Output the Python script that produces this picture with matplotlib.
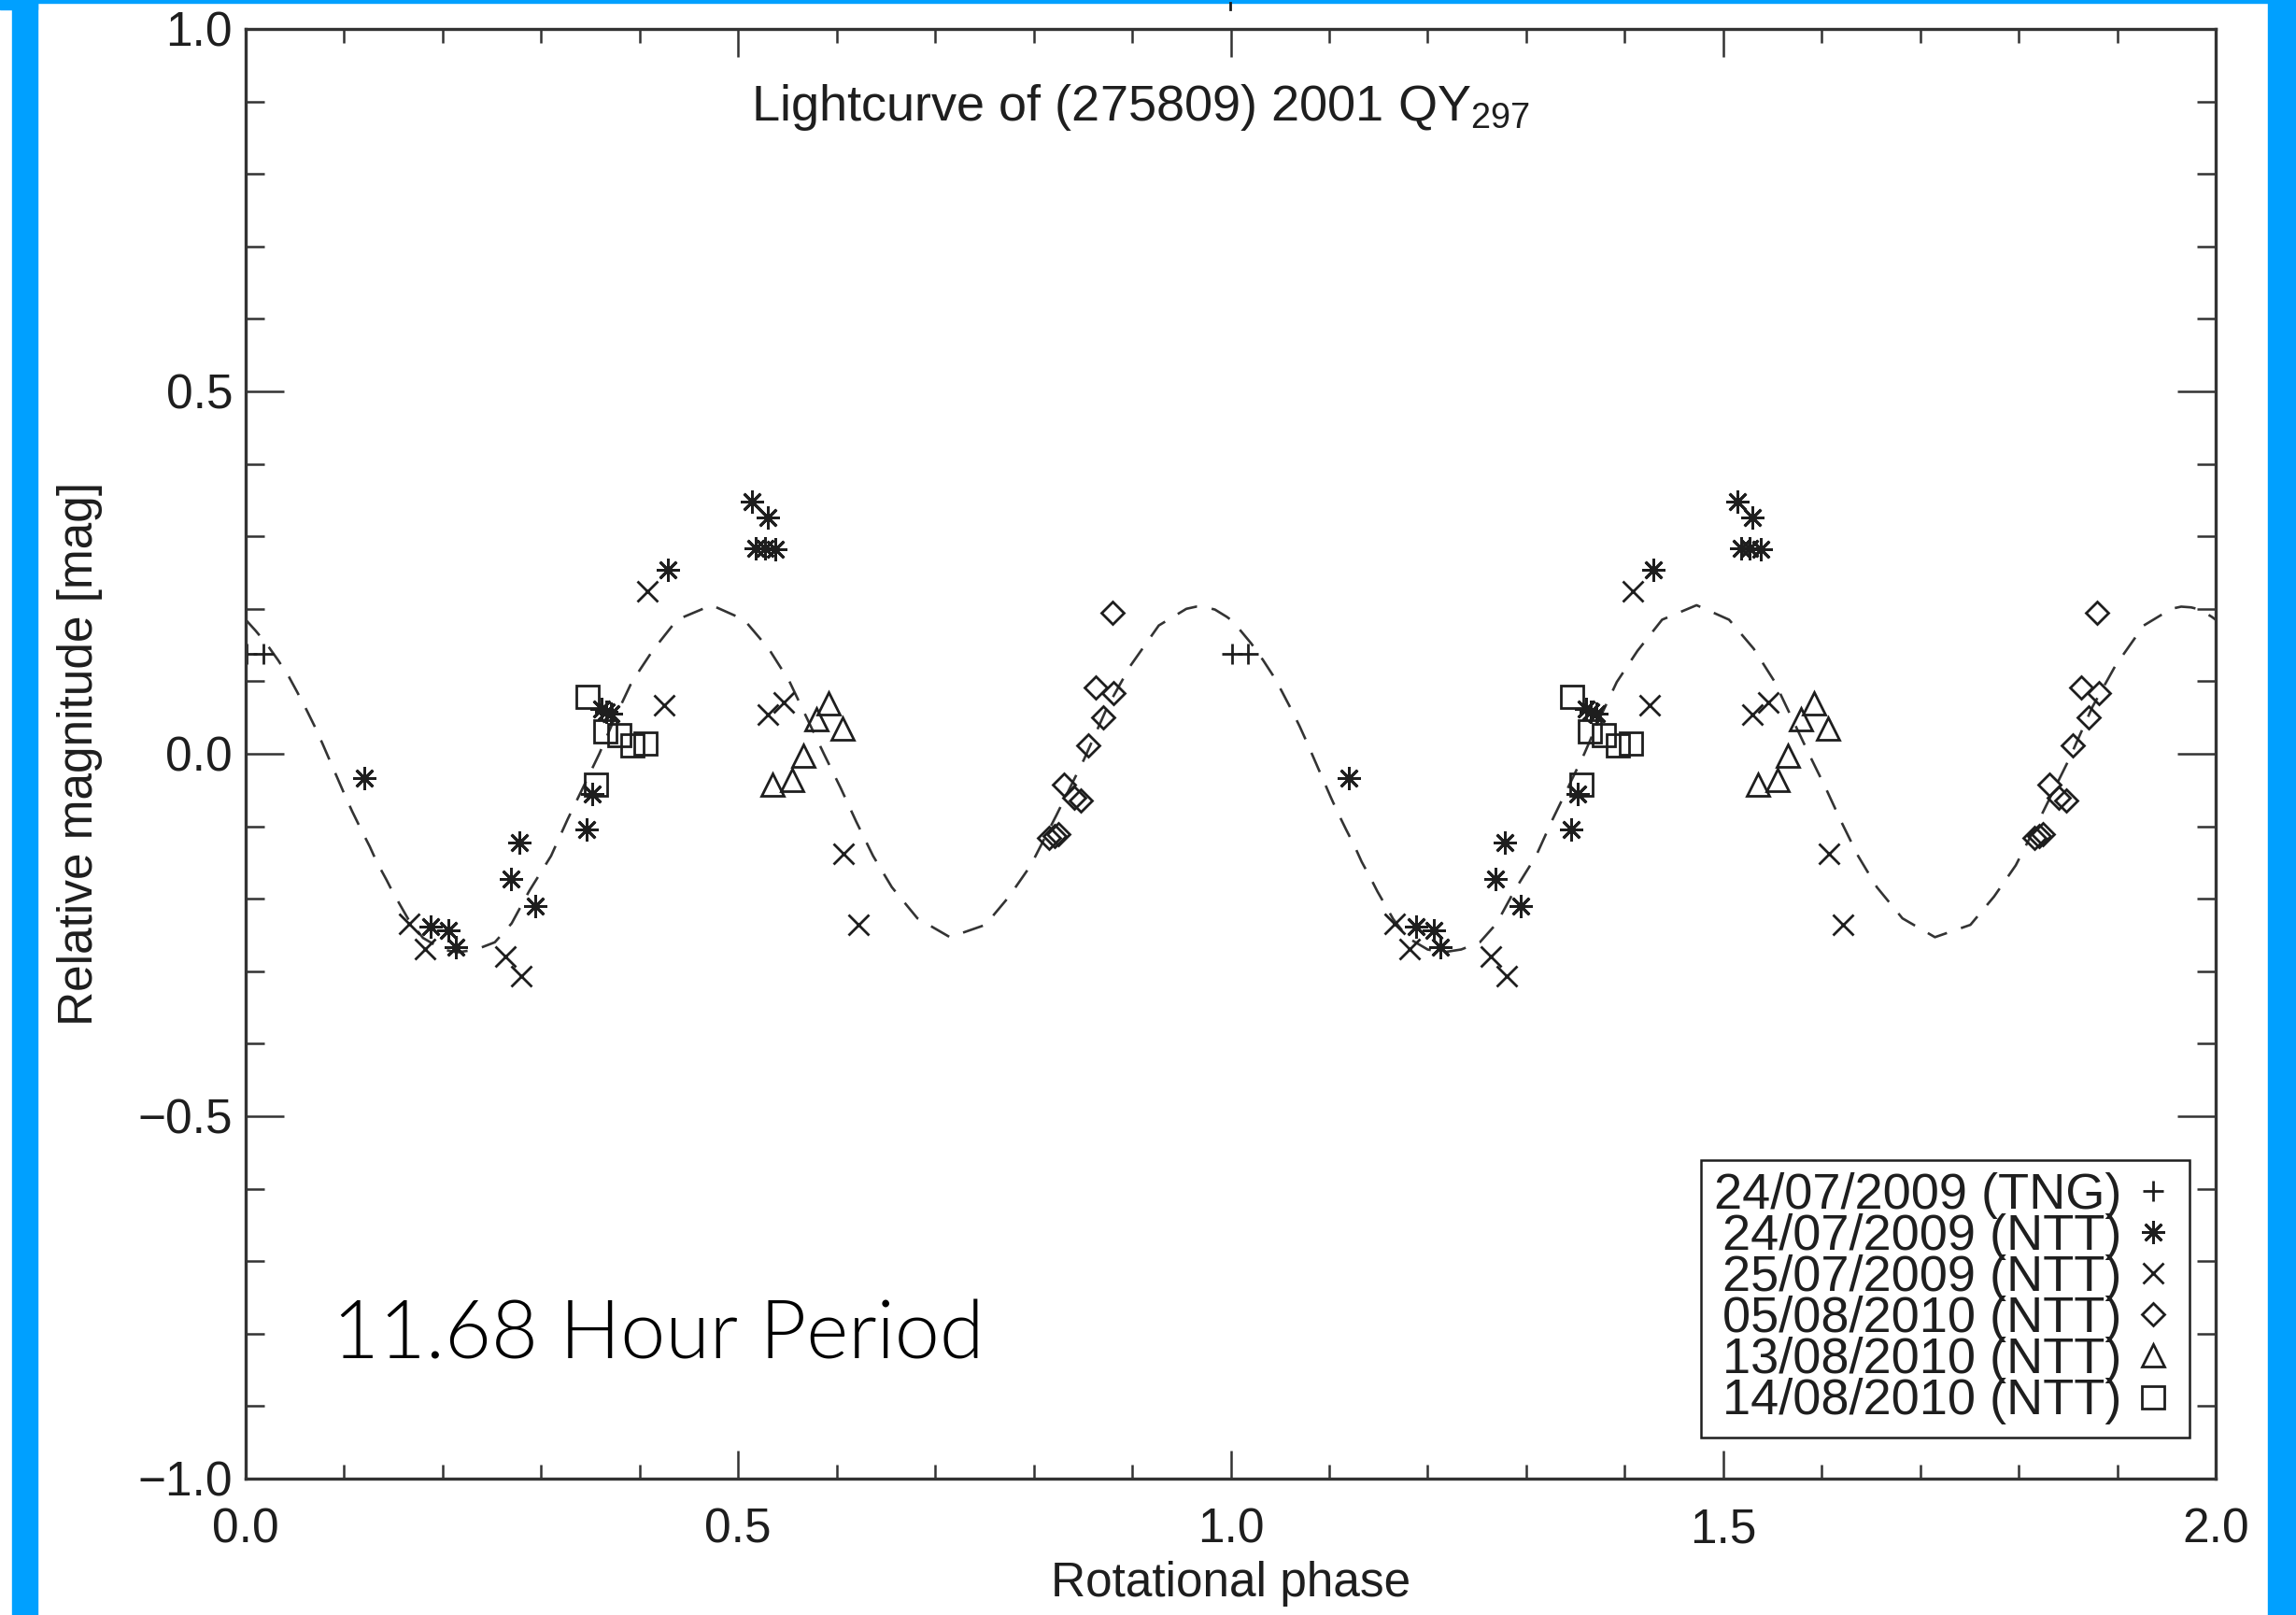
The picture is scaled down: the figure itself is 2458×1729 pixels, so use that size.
import numpy as np
import matplotlib
matplotlib.use("Agg")
import matplotlib.pyplot as plt
from matplotlib.patches import Rectangle
from matplotlib.lines import Line2D
from matplotlib.ticker import FixedLocator, MultipleLocator

plt.rcParams['font.family'] = ['Liberation Sans', 'DejaVu Sans']

# --- data (phase 0..1, repeated for the 2nd cycle) ---
tng_phase = [0.001, 0.018]
tng_mag = [0.138, 0.138]

ntt24_phase = [0.120, 0.188, 0.206, 0.213, 0.269, 0.278, 0.294, 0.346, 0.352,
               0.361, 0.366, 0.371, 0.429, 0.514, 0.530, 0.518, 0.527, 0.538]
ntt24_mag = [-0.034, -0.238, -0.244, -0.267, -0.173, -0.123, -0.210, -0.104, -0.055,
             0.062, 0.058, 0.055, 0.254, 0.348, 0.326, 0.284, 0.284, 0.282]

ntt25_phase = [0.166, 0.182, 0.264, 0.280, 0.408, 0.425, 0.530, 0.546, 0.607, 0.622]
ntt25_mag = [-0.234, -0.269, -0.279, -0.307, 0.224, 0.067, 0.054, 0.071, -0.138, -0.236]

ntt05_phase = [0.816, 0.821, 0.825, 0.831, 0.841, 0.848, 0.855, 0.871, 0.863, 0.881, 0.880]
ntt05_mag = [-0.116, -0.113, -0.111, -0.043, -0.060, -0.064, 0.012, 0.050, 0.092, 0.084, 0.194]

ntt13_phase = [0.535, 0.555, 0.566, 0.579, 0.592, 0.606]
ntt13_mag = [-0.042, -0.036, -0.002, 0.048, 0.069, 0.035]

ntt14_phase = [0.347, 0.356, 0.365, 0.379, 0.393, 0.406]
ntt14_mag = [0.078, -0.042, 0.031, 0.026, 0.012, 0.014]

# fitted curve, read point by point over one cycle
fit_phase = [0.000, 0.010, 0.021, 0.033, 0.044, 0.052, 0.062, 0.070, 0.078, 0.085,
             0.093, 0.101, 0.108, 0.117, 0.126, 0.133, 0.143, 0.149, 0.165, 0.180,
             0.200, 0.215, 0.234, 0.253, 0.270, 0.288, 0.310, 0.327, 0.342, 0.359,
             0.375, 0.392, 0.413, 0.438, 0.473, 0.506, 0.531, 0.552, 0.587, 0.604,
             0.620, 0.637, 0.656, 0.682, 0.715, 0.751, 0.775, 0.797, 0.823, 0.851,
             0.875, 0.898, 0.927, 0.955, 0.965, 0.975, 0.984, 0.996]
fit_mag = [0.185, 0.170, 0.152, 0.129, 0.106, 0.086, 0.060, 0.038, 0.014, -0.008,
           -0.033, -0.058, -0.079, -0.104, -0.128, -0.149, -0.174, -0.190, -0.228, -0.254,
           -0.270, -0.274, -0.270, -0.260, -0.234, -0.189, -0.141, -0.090, -0.048, 0.000,
           0.050, 0.099, 0.142, 0.185, 0.205, 0.185, 0.145, 0.100, 0.000, -0.047,
           -0.094, -0.141, -0.184, -0.227, -0.253, -0.236, -0.197, -0.154, -0.085, -0.008,
           0.065, 0.121, 0.177, 0.200, 0.203, 0.202, 0.199, 0.189]

labels = ['24/07/2009 (TNG)', '24/07/2009 (NTT)', '25/07/2009 (NTT)',
          '05/08/2010 (NTT)', '13/08/2010 (NTT)', '14/08/2010 (NTT)']

xtick_vals = [0.0, 0.5, 1.0, 1.5, 2.0]
xtick_labels = ['0.0', '0.5', '1.0', '1.5', '2.0']
ytick_vals = [-1.0, -0.5, 0.0, 0.5, 1.0]
ytick_labels = ['\u22121.0', '\u22120.5', '0.0', '0.5', '1.0']


def two_cycles(p, m):
    p = np.asarray(p)
    return np.concatenate([p, p + 1.0]), np.concatenate([m, m])


W, H = 2458, 1729
fig = plt.figure(figsize=(W / 100, H / 100), dpi=100)
ax = fig.add_axes([263 / W, (H - 1583) / H, (2372 - 263) / W, (1583 - 31) / H])

ink = '#1e1e1e'
fs = 37

# dashed fit
fp, fm = two_cycles(fit_phase, fit_mag)
fp = np.append(fp, 2.0)
fm = np.append(fm, fit_mag[0])
ax.plot(fp, fm, color='#333333', lw=1.9, dashes=(8.5, 6))

sets = [(tng_phase, tng_mag, '+', 16),
        (ntt24_phase, ntt24_mag, (8, 2, 0), 18),
        (ntt25_phase, ntt25_mag, 'x', 16),
        (ntt05_phase, ntt05_mag, 'D', 12.5),
        (ntt13_phase, ntt13_mag, '^', 17),
        (ntt14_phase, ntt14_mag, 's', 17.5)]
for (p, m, mk, ms), lab in zip(sets, labels):
    x, y = two_cycles(p, m)
    ax.plot(x, y, ls='none', marker=mk, ms=ms, mew=2.0, mec=ink, mfc='none', label=lab)

ax.set_xlim(0, 2)
ax.set_ylim(-1, 1)
ax.xaxis.set_major_locator(FixedLocator(xtick_vals))
ax.set_xticklabels(xtick_labels)
ax.yaxis.set_major_locator(FixedLocator(ytick_vals))
ax.set_yticklabels(ytick_labels)
ax.xaxis.set_minor_locator(MultipleLocator(0.1))
ax.yaxis.set_minor_locator(MultipleLocator(0.1))
ax.tick_params(which='both', direction='in', top=True, right=True, colors='#333333',
               labelcolor=ink, labelsize=fs)
ax.tick_params(axis='x', which='major', length=21.5, width=1.8, pad=22)
ax.tick_params(axis='x', which='minor', length=11, width=1.8)
ax.tick_params(axis='y', which='major', length=29.5, width=1.8, pad=10)
ax.tick_params(axis='y', which='minor', length=14.5, width=1.8)
for s in ax.spines.values():
    s.set_linewidth(2.4)
    s.set_color('#333333')

ax.set_xlabel('Rotational phase', fontsize=fs, color=ink)
ax.set_ylabel('Relative magnitude [mag]', fontsize=fs, color=ink)
ax.xaxis.set_label_coords(0.5, -0.057)
ax.yaxis.set_label_coords(-0.0725, 0.5)

ax.text(0.513, 0.874, r'Lightcurve of (275809) 2001 $\mathregular{QY_{297}}$',
        fontsize=39, color=ink, ha='left', va='baseline')

ax.text(0.0885, -0.835, '11.68 Hour Period', fontsize=62, color='black',
        family=['Lato', 'Liberation Sans'], fontweight=300, ha='left', va='baseline')

leg = ax.legend(loc='lower right', bbox_to_anchor=((2344 - 263) / 2109, (1583 - 1539) / 1552),
                borderaxespad=0, markerfirst=False, fancybox=False, framealpha=1,
                edgecolor=ink, fontsize=39, handlelength=0.95, handletextpad=0.15,
                borderpad=0.25, labelspacing=-0.11)
leg.get_frame().set_linewidth(1.8)
for t in leg.get_texts():
    t.set_color(ink)

# blue frame around the screenshot
blue = '#00a0ff'
fig.patches.append(Rectangle((0, 1 - 3 / H), 1, 3 / H, transform=fig.transFigure, color=blue))
fig.patches.append(Rectangle((0, 1 - 10 / H), 40 / W, 10 / H, transform=fig.transFigure, color=blue))
fig.patches.append(Rectangle((13 / W, 0), 27 / W, 1, transform=fig.transFigure, color=blue))
fig.patches.append(Rectangle((2428 / W, 0), 30 / W, 1, transform=fig.transFigure, color=blue))
# stray mark left at the top edge of the screenshot
fig.add_artist(Line2D([1317 / W, 1317 / W], [1 - 10 / H, 1 - 3 / H], color=ink, lw=2))

fig.savefig('out.png', dpi=100)
